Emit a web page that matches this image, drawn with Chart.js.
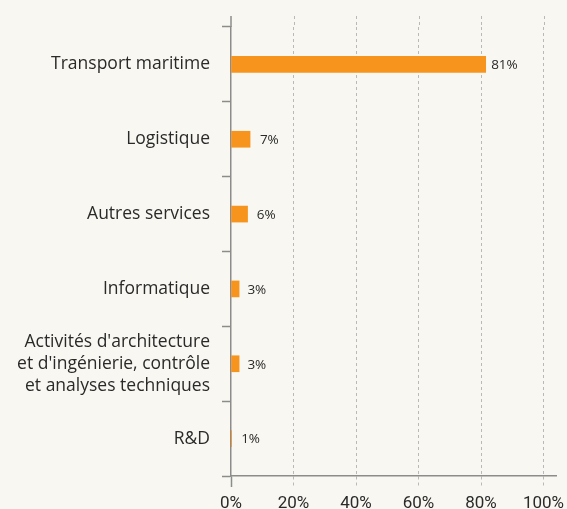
<!DOCTYPE html>
<html>
<head>
<meta charset="utf-8">
<script src="https://cdn.jsdelivr.net/npm/chart.js@4/dist/chart.umd.min.js"></script>
<style>
  html, body { margin: 0; padding: 0; background: #f8f7f1; }
  #wrap { width: 567px; height: 509px; }
</style>
</head>
<body>
<div id="wrap"><canvas id="c" width="567" height="509"></canvas></div>
<script>
var categories = [
    'Transport maritime',
    'Logistique',
    'Autres services',
    'Informatique',
    ["Activités d'architecture", "et d'ingénierie, contrôle", 'et analyses techniques'],
    'R&D'
];
// bar lengths as drawn, and the rounded shares printed next to them
var barValues   = [81.5, 6.1, 5.3, 2.6, 2.6, 0.1];
var shareLabels = [81, 7, 6, 3, 3, 1];
var xTicks      = [0, 20, 40, 60, 80, 100];

var AXIS = '#8c8c8c';
var GRID = '#b9b9b9';
var TEXT = '#2a2a2a';
var FONT = '"Open Sans", "Liberation Sans", sans-serif';
var TICK_FONT = 'Roboto, "Liberation Sans", sans-serif';

// top stub of axis + gridlines above the first band
var axisStub = {
    id: 'axisStub',
    afterDraw: function (chart) {
        var ctx = chart.ctx, a = chart.chartArea, x = chart.scales.x;
        var top = a.top - 11;
        ctx.save();
        ctx.lineWidth = 1;
        ctx.strokeStyle = GRID;
        ctx.setLineDash([3, 3]);
        xTicks.forEach(function (v) {
            if (v === 0) return;
            var px = Math.round(x.getPixelForValue(v)) + 0.5;
            ctx.beginPath(); ctx.moveTo(px, top); ctx.lineTo(px, a.top); ctx.stroke();
        });
        ctx.setLineDash([]);
        ctx.strokeStyle = AXIS;
        ctx.lineWidth = 1.5;
        ctx.beginPath(); ctx.moveTo(a.left, top); ctx.lineTo(a.left, a.top); ctx.stroke();
        ctx.restore();
    }
};

var valueLabels = {
    id: 'valueLabels',
    afterDatasetsDraw: function (chart) {
        var ctx = chart.ctx, x = chart.scales.x;
        var meta = chart.getDatasetMeta(0);
        ctx.save();
        ctx.font = '13.5px ' + FONT;
        ctx.fillStyle = TEXT;
        ctx.textAlign = 'left';
        ctx.textBaseline = 'middle';
        meta.data.forEach(function (bar, i) {
            ctx.fillText(shareLabels[i] + '%', x.getPixelForValue(shareLabels[i]) + 7, bar.y + 1);
        });
        ctx.restore();
    }
};

new Chart(document.getElementById('c'), {
    type: 'bar',
    data: {
        labels: categories,
        datasets: [{
            data: barValues,
            backgroundColor: '#f7941e',
            barThickness: 16,
        }],
    },
    options: {
        indexAxis: 'y',
        responsive: false,
        animation: false,
        layout: { padding: { top: 27, right: 11, left: 0, bottom: 0 } },
        plugins: {
            legend: { display: false },
            tooltip: { enabled: false },
        },
        scales: {
            x: {
                min: 0,
                max: 104,
                afterBuildTicks: function (s) {
                    s.ticks = xTicks.map(function (v) { return { value: v }; });
                },
                afterFit: function (s) {
                    s.height = 33;
                    s.paddingLeft = 0;
                    s.paddingRight = 0;
                },
                border: { color: AXIS, width: 1.5, dash: [3, 3] },
                grid: {
                    color: function (c) { return c.tick && c.tick.value === 0 ? 'rgba(0,0,0,0)' : GRID; },
                    tickColor: function (c) { return c.tick && c.tick.value === 0 ? AXIS : GRID; },
                    tickWidth: function (c) { return c.tick && c.tick.value === 0 ? 1.5 : 1; },
                    tickBorderDash: function (c) { return c.tick && c.tick.value === 0 ? [] : [3, 3]; },
                    tickLength: 11,
                },
                ticks: {
                    padding: 7,
                    color: TEXT,
                    font: { family: TICK_FONT, size: 17 },
                    callback: function (v) { return v + '%'; },
                },
            },
            y: {
                afterFit: function (s) { s.width = 231; },
                border: { color: AXIS, width: 1.5 },
                grid: {
                    drawOnChartArea: false,
                    tickColor: AXIS,
                    tickWidth: 1.5,
                    tickLength: 9,
                },
                ticks: {
                    padding: 12,
                    color: TEXT,
                    font: { family: FONT, size: 17.5, lineHeight: 1.27 },
                },
            },
        },
    },
    plugins: [axisStub, valueLabels],
});
</script>
</body>
</html>
